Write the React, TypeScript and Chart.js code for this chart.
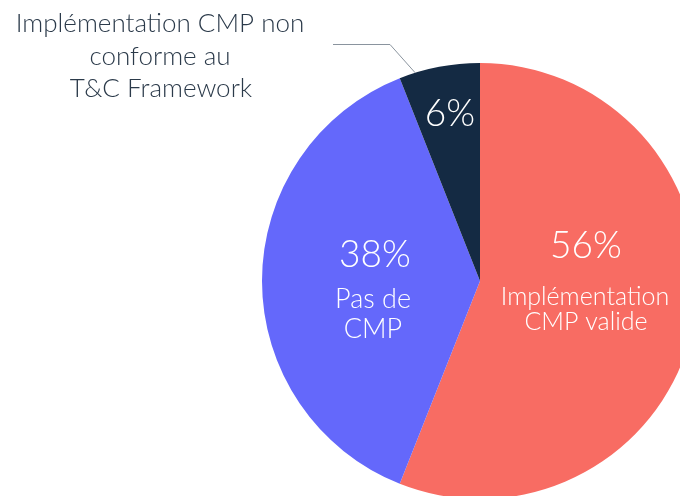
import React, { useEffect, useRef } from "react";
import { Chart, registerables } from "chart.js";

Chart.register(...registerables);

const categories = ["Implémentation CMP valide", "Pas de CMP", "Implémentation CMP non conforme au T&C Framework"];
const values = [56, 38, 6];
const colors = ["#F86C63", "#6468FB", "#142A43"];
const percentLabels = ["56%", "38%", "6%"];
const innerLabels = [["Implémentation", "CMP valide"], ["Pas de", "CMP"], []];
const outerLabel = ["Implémentation CMP non", "conforme au", "T&C Framework"];

const FONT = "Lato, 'Open Sans', sans-serif";

const labelPlugin = {
  id: "labels",
  afterDraw(chart: any) {
    const ctx = chart.ctx;
    const meta = chart.getDatasetMeta(0);
    const arcs = meta.data;
    const cx = arcs[0].x;
    const cy = arcs[0].y;
    const R = arcs[0].outerRadius;
    ctx.save();
    ctx.textAlign = "center";
    ctx.textBaseline = "alphabetic";
    ctx.fillStyle = "#ffffff";
    // 56%
    ctx.font = `300 37px ${FONT}`;
    ctx.fillText(percentLabels[0], cx + 106, cy - 23);
    ctx.font = `300 25px ${FONT}`;
    ctx.fillText(innerLabels[0][0], cx + 105, cy + 24);
    ctx.fillText(innerLabels[0][1], cx + 106, cy + 49);
    // 38%
    ctx.font = `300 37px ${FONT}`;
    ctx.fillText(percentLabels[1], cx - 105, cy - 14);
    ctx.font = `300 27px ${FONT}`;
    ctx.fillText(innerLabels[1][0], cx - 107, cy + 27);
    ctx.fillText(innerLabels[1][1], cx - 107, cy + 57);
    // 6%
    ctx.font = `300 37px ${FONT}`;
    ctx.fillText(percentLabels[2], cx - 30, cy - 155);

    // leader line
    const a = arcs[2];
    const ang = a.startAngle + 0.2 * (a.endAngle - a.startAngle);
    const ex = cx + Math.cos(ang) * R;
    const ey = cy + Math.sin(ang) * R;
    ctx.strokeStyle = "#8A949E";
    ctx.lineWidth = 1;
    ctx.beginPath();
    ctx.moveTo(333, 44.5);
    ctx.lineTo(390, 44.5);
    ctx.lineTo(ex, ey);
    ctx.stroke();

    ctx.fillStyle = "#2B3A4A";
    ctx.font = `300 26px ${FONT}`;
    ctx.fillText(outerLabel[0], 160, 32);
    ctx.fillText(outerLabel[1], 160, 65);
    ctx.fillText(outerLabel[2], 161, 97);
    ctx.restore();
  },
};

export default function App() {
  const ref = useRef<HTMLCanvasElement>(null);
  useEffect(() => {
    if (!ref.current) return;
    const chart = new Chart(ref.current, {
      type: "pie",
      data: {
        labels: categories,
        datasets: [
          {
            data: values,
            backgroundColor: colors,
            borderWidth: 0,
          },
        ],
      },
      options: {
        responsive: false,
        animation: false,
        layout: { padding: { left: 62, right: 62, top: 63, bottom: 63 } },
        plugins: { legend: { display: false }, tooltip: { enabled: false } },
      },
      plugins: [labelPlugin],
    });
    return () => chart.destroy();
  }, []);
  return (
    <div
      style={{
        position: "fixed",
        top: 0,
        left: 0,
        width: 680,
        height: 496,
        overflow: "hidden",
        background: "#fff",
      }}
    >
      <canvas ref={ref} width={960} height={562} style={{ position: "absolute", left: 0, top: 0 }} />
    </div>
  );
}
